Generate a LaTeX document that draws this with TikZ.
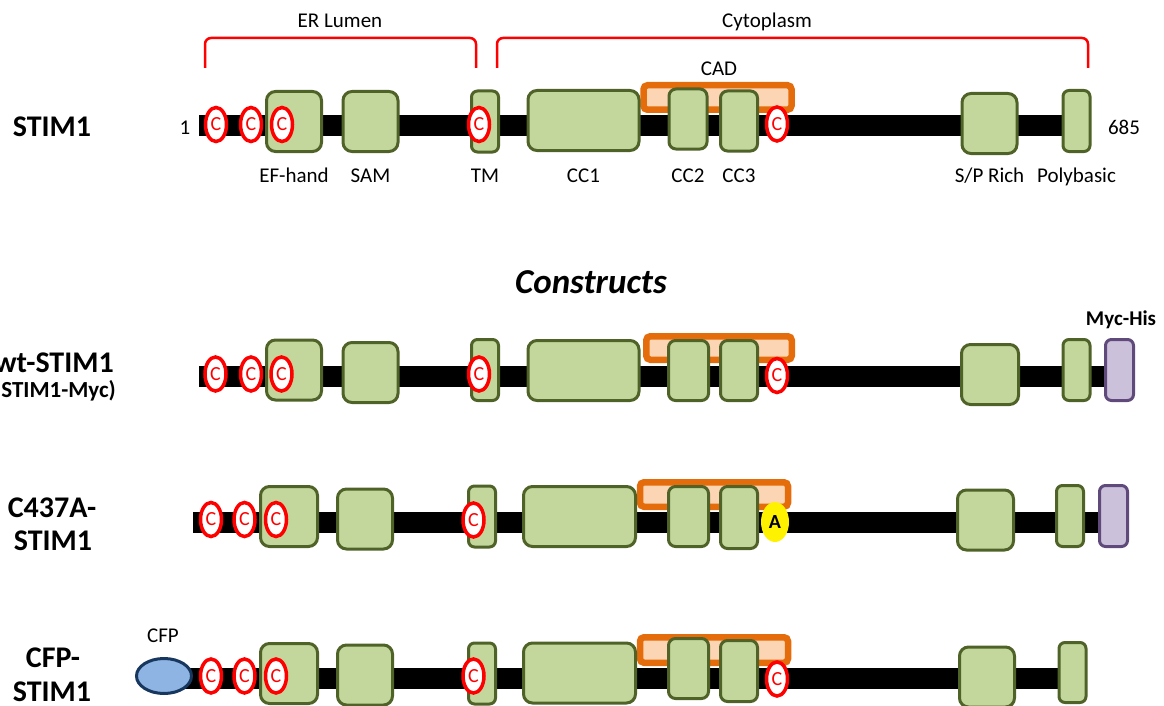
\documentclass[tikz,border=0pt]{standalone}
\usepackage{fontspec}
\setmainfont{Carlito}
\usepackage{xcolor}
\usetikzlibrary{positioning,shapes.geometric}
\definecolor{domfill}{RGB}{195,214,155}
\definecolor{domline}{RGB}{79,98,40}
\definecolor{cadline}{RGB}{228,108,10}
\definecolor{cadfill}{RGB}{252,213,181}
\definecolor{tagfill}{RGB}{204,193,218}
\definecolor{tagline}{RGB}{96,74,123}
\definecolor{cfpfill}{RGB}{142,180,227}
\definecolor{cfpline}{RGB}{23,55,94}

\begin{document}
\begin{tikzpicture}[x=1pt, y=-1pt, font=\fontsize{21}{25}\selectfont]
\tikzstyle{dom}=[draw=domline, line width=3pt, fill=domfill, rounded corners=9pt, inner sep=0pt, outer sep=0pt]
\tikzstyle{sq}=[dom, minimum width=55pt, minimum height=60pt]
\tikzstyle{slim}=[dom, rounded corners=6pt, minimum width=27pt, minimum height=61pt]
\tikzstyle{cc}=[dom, rounded corners=7pt, minimum width=38pt, minimum height=60pt]
\tikzstyle{big}=[dom, minimum width=111pt, minimum height=60pt]
\tikzstyle{cad}=[draw=cadline, line width=6.5pt, fill=cadfill, rounded corners=4pt, inner sep=0pt, outer sep=0pt, minimum width=148pt, minimum height=24.5pt]
\tikzstyle{tag}=[draw=tagline, line width=3pt, fill=tagfill, rounded corners=6pt, inner sep=0pt, minimum width=28pt, minimum height=61pt]
\tikzstyle{cys}=[ellipse, draw=red, line width=3.5pt, fill=white, text=red, inner sep=0pt, minimum width=21pt, minimum height=34pt, font=\fontsize{20}{24}\selectfont]
\tikzstyle{ala}=[ellipse, fill=yellow, inner sep=0pt, minimum width=28pt, minimum height=40pt, font=\fontsize{20}{24}\selectfont\bfseries]
\tikzstyle{cfp}=[ellipse, draw=cfpline, line width=3pt, fill=cfpfill, inner sep=0pt, minimum width=55pt, minimum height=35pt]
\tikzstyle{bar}=[line width=21pt, black]
\tikzstyle{brak}=[red, line width=2.5pt, rounded corners=6pt]
\tikzstyle{lbl}=[inner sep=0pt, anchor=base]
\tikzstyle{rowname}=[inner sep=0pt, anchor=base, font=\fontsize{30}{34}\selectfont\bfseries]
\useasboundingbox (0,0) rectangle (1164,706);

% regions
\coordinate (erl) at (205,68);
\coordinate (err) at (476,68);
\coordinate (cyl) at (497,68);
\coordinate (cyr) at (1088,68);
\draw[brak] (erl) -- ++(0,-30) -| (err);
\draw[brak] (cyl) -- ++(0,-30) -| (cyr);
\node[lbl] (er) at (340,28) {ER Lumen};
\node[lbl] (cyto) at (767,28) {Cytoplasm};

% STIM1
\node[rowname] (n1) at (52,137) {STIM1};
\coordinate (s1) at (199,125.5);
\coordinate (e1) at (1076.5,125.5);
\draw[bar] (s1) -- (e1);
\node[lbl] (first) at (185,135) {1};
\node[lbl] (last) at (1124,135) {685};
\node[cad] (cad1) at (717.5,97.5) {};
\node[lbl] (cadl) at (719,76) {CAD};
\node[sq] (ef1) at (294,121.5) {};
\node[sq] (sam1) at (370.5,121.5) {};
\node[slim] (tm1) at (485,121.5) {};
\node[big] (cc11) at (583.5,120.5) {};
\node[cc] (cc21) at (688,119) {};
\node[cc, minimum width=37pt] (cc31) at (739,121) {};
\node[sq] (sp1) at (989.5,123.5) {};
\node[slim] (pb1) at (1076.5,121) {};
\node[cys] (c1a) at (216,124.5) {C};
\node[cys] (c1b) at (251,124.5) {C};
\node[cys] (c1c) at (282,124.5) {C};
\node[cys] (c1d) at (479,124.5) {C};
\node[cys] (c1e) at (777,124) {C};
\coordinate (lab) at (0,182);
\node[lbl] at (ef1 |- lab) {EF-hand};
\node[lbl] at (sam1 |- lab) {SAM};
\node[lbl] at (tm1 |- lab) {TM};
\node[lbl] at (cc11 |- lab) {CC1};
\node[lbl] at (cc21 |- lab) {CC2};
\node[lbl] at (cc31 |- lab) {CC3};
\node[lbl] at (sp1 |- lab) {S/P Rich};
\node[lbl] at (pb1 |- lab) {Polybasic};

\node[lbl, font=\fontsize{35}{40}\selectfont\bfseries\itshape] (cons) at (591,293) {Constructs};

% wt-STIM1
\node[rowname] (n2) at (54,372) {wt-STIM1};
\node[lbl, font=\fontsize{23}{27}\selectfont\bfseries] (n2b) at (55,397) {(STIM1-Myc)};
\coordinate (s2) at (199,376);
\coordinate (e2) at (1119.5,376);
\draw[bar] (s2) -- (e2);
\node[cad, minimum width=145.5pt, minimum height=23.5pt] (cad2) at (719,348) {};
\node[sq] (ef2) at (294,370) {};
\node[sq] (sam2) at (370.5,372.5) {};
\node[slim] (tm2) at (485,370) {};
\node[big] (cc12) at (583.5,370.5) {};
\node[cc, minimum width=40pt] (cc22) at (688.5,370.5) {};
\node[cc, minimum width=37pt] (cc32) at (739,370.5) {};
\node[sq, minimum width=57pt] (sp2) at (990,374.5) {};
\node[slim] (pb2) at (1076.5,370) {};
\node[tag] (myc2) at (1119.5,370) {};
\node[lbl, font=\fontsize{21}{25}\selectfont\bfseries] (mycl) at (1121,325) {Myc-His};
\node[cys] (c2a) at (215.5,374) {C};
\node[cys] (c2b) at (251,374) {C};
\node[cys] (c2c) at (281.5,374) {C};
\node[cys] (c2d) at (479,374) {C};
\node[cys] (c2e) at (777,375.5) {C};

% C437A-STIM1
\node[rowname] (n3) at (52,517) {C437A-};
\node[rowname] (n3b) at (53,550) {STIM1};
\coordinate (s3) at (193,522.5);
\coordinate (e3) at (1113.5,522.5);
\draw[bar] (s3) -- (e3);
\node[cad] (cad3) at (714,494.5) {};
\node[sq, minimum width=57pt] (ef3) at (289,516.5) {};
\node[sq] (sam3) at (365,519) {};
\node[slim] (tm3) at (482,516.5) {};
\node[big, minimum width=112pt] (cc13) at (579.5,516.5) {};
\node[cc, minimum width=40pt] (cc23) at (688.5,516.5) {};
\node[cc, minimum width=37pt, minimum height=62pt] (cc33) at (739,517.5) {};
\node[sq, minimum width=56pt] (sp3) at (985.5,520) {};
\node[slim] (pb3) at (1070,516) {};
\node[tag] (myc3) at (1113.5,516) {};
\node[cys] (c3a) at (211,519.5) {C};
\node[cys] (c3b) at (244.5,519.5) {C};
\node[cys] (c3c) at (276,519.5) {C};
\node[cys] (c3d) at (473.5,520) {C};
\node[ala] (a3) at (775,522) {A};

% CFP-STIM1
\node[rowname] (n4) at (53,667) {CFP-};
\node[rowname] (n4b) at (52,701) {STIM1};
\coordinate (s4) at (164,678.5);
\coordinate (e4) at (1072.5,678.5);
\draw[bar] (s4) -- (e4);
\node[cfp] (cfp4) at (164,676) {};
\node[lbl] (cfpl) at (163,642) {CFP};
\node[cad, minimum height=25.5pt] (cad4) at (714,650) {};
\node[sq, minimum width=57pt] (ef4) at (289,673.5) {};
\node[sq] (sam4) at (365,675) {};
\node[slim] (tm4) at (482,673.5) {};
\node[big, minimum width=112pt] (cc14) at (579.5,673) {};
\node[cc, minimum width=40pt] (cc24) at (688.5,668.5) {};
\node[cc, minimum width=37pt, minimum height=61pt] (cc34) at (739,671) {};
\node[sq] (sp4) at (987,677) {};
\node[slim, minimum height=60pt] (pb4) at (1072.5,672.5) {};
\node[cys] (c4a) at (211,676) {C};
\node[cys] (c4b) at (244.5,676) {C};
\node[cys] (c4c) at (276,676) {C};
\node[cys] (c4d) at (473.5,676) {C};
\node[cys] (c4e) at (777,679) {C};
\end{tikzpicture}
\end{document}
